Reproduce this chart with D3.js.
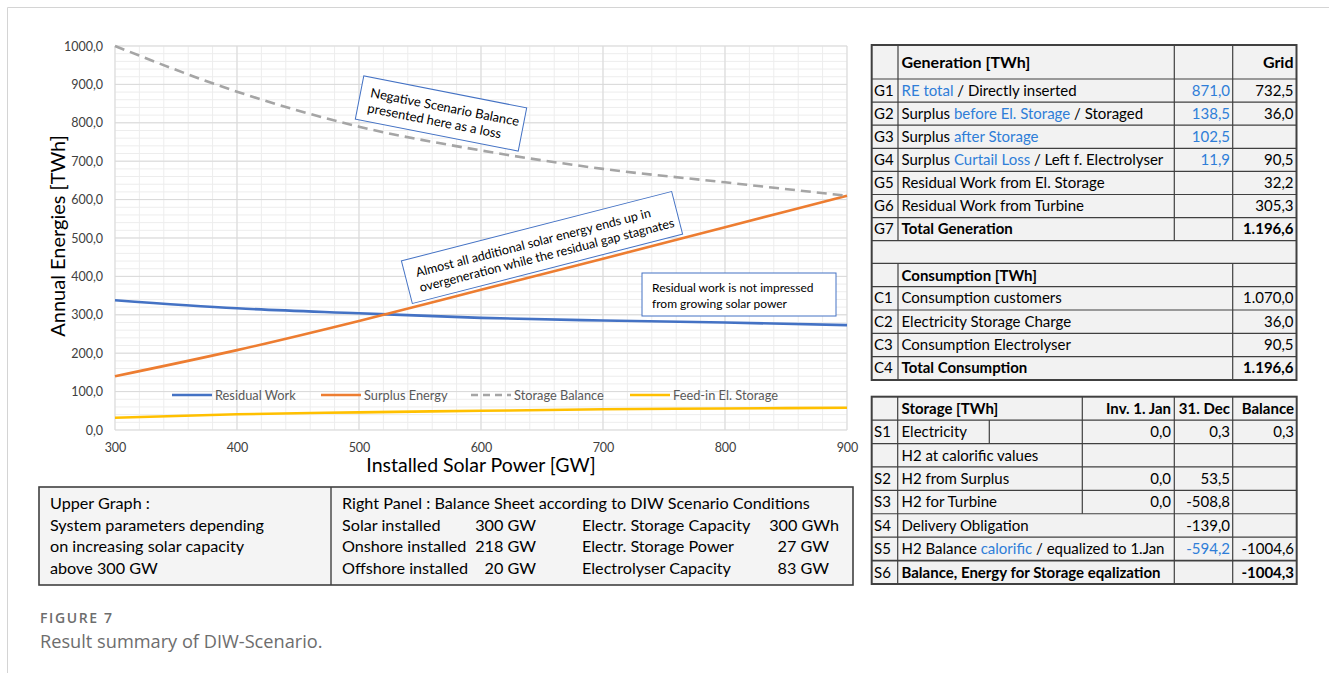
<!DOCTYPE html>
<html><head><meta charset="utf-8">
<script src="https://cdn.jsdelivr.net/npm/d3@7"></script>
<style>
body{margin:0;background:#fff;}
svg{display:block;font-family:Lato, "Liberation Sans", sans-serif;}
</style>
</head><body>
<svg id="c" width="1329" height="673"></svg>
<script>
// ---------- chart data ----------
const solarGW        = [300, 400, 500, 600, 700, 800, 900];
const residualWork   = [338, 317, 304, 292, 285, 280, 273];
const surplusEnergy  = [140, 208, 284, 365, 446, 528, 610];
const storageBalance = [1000, 881, 790, 728, 680, 645, 610];
const feedInStorage  = [32, 41, 46, 50, 54, 56, 58];
const xTicks = [300, 400, 500, 600, 700, 800, 900];
const yTicks = [0, 100, 200, 300, 400, 500, 600, 700, 800, 900, 1000];
const seriesNames  = ["Residual Work", "Surplus Energy", "Storage Balance", "Feed-in El. Storage"];
const seriesColors = ["#4472c4", "#ed7d31", "#a5a5a5", "#ffc000"];

// ---------- bottom box ----------
const leftNotes = ["Upper Graph :", "System parameters depending", "on increasing solar capacity", "above 300 GW"];
const rightTitle = "Right Panel : Balance Sheet according to DIW Scenario Conditions";
const condNames1 = ["Solar installed", "Onshore installed", "Offshore installed"];
const condVals1  = ["300 GW", "218 GW", "20 GW"];
const condNames2 = ["Electr. Storage Capacity", "Electr. Storage Power", "Electrolyser Capacity"];
const condVals2  = ["300 GWh", "27 GW", "83 GW"];

// ---------- tables ----------
const genCodes = ["G1","G2","G3","G4","G5","G6","G7"];
const genLabels = [
  [["RE total",1],[" / Directly inserted",0]],
  [["Surplus ",0],["before El. Storage",1],[" / Storaged",0]],
  [["Surplus ",0],["after Storage",1]],
  [["Surplus ",0],["Curtail Loss",1],[" / Left f. Electrolyser",0]],
  [["Residual Work from El. Storage",0]],
  [["Residual Work from Turbine",0]],
  [["Total Generation",0]]
];
const genRE   = ["871,0","138,5","102,5","11,9","","",""];
const genGrid = ["732,5","36,0","","90,5","32,2","305,3","1.196,6"];
const consCodes  = ["C1","C2","C3","C4"];
const consLabels = ["Consumption customers","Electricity Storage Charge","Consumption Electrolyser","Total Consumption"];
const consGrid   = ["1.070,0","36,0","90,5","1.196,6"];
const stoCodes  = ["S1","","S2","S3","S4","S5","S6"];
const stoLabels = [
  [["Electricity",0]],
  [["H2 at calorific values",0]],
  [["H2 from Surplus",0]],
  [["H2 for Turbine",0]],
  [["Delivery Obligation",0]],
  [["H2 Balance ",0],["calorific",1],[" / equalized to 1.Jan",0]],
  [["Balance, Energy for Storage eqalization",0]]
];
const stoJan = ["0,0","","0,0","0,0","","",""];
const stoDec = ["0,3","","53,5","-508,8","-139,0","-594,2",""];
const stoBal = ["0,3","","","","","-1004,6","-1004,3"];

const BLUE_TXT = "#2f7ed8";
const svg = d3.select("#c");

// page frame lines
svg.append("line").attr("x1",7.5).attr("y1",7.5).attr("x2",1329).attr("y2",7.5).attr("stroke","#d4d4d4");
svg.append("line").attr("x1",7.5).attr("y1",7.5).attr("x2",7.5).attr("y2",673).attr("stroke","#d4d4d4");

// ---------- chart ----------
const x = d3.scaleLinear().domain([300, 900]).range([115, 847]);
const y = d3.scaleLinear().domain([0, 1000]).range([430, 46]);
const g = svg.append("g");

g.selectAll(".mx").data(d3.range(300, 901, 20)).join("line")
  .attr("x1", d => x(d)).attr("x2", d => x(d)).attr("y1", y(0)).attr("y2", y(1000))
  .attr("stroke", "#ededed").attr("stroke-width", 1);
g.selectAll(".my").data(d3.range(0, 1001, 20)).join("line")
  .attr("y1", d => y(d)).attr("y2", d => y(d)).attr("x1", x(300)).attr("x2", x(900))
  .attr("stroke", "#ededed").attr("stroke-width", 1);
g.selectAll(".Mx").data(xTicks).join("line")
  .attr("x1", d => x(d)).attr("x2", d => x(d)).attr("y1", y(0)).attr("y2", y(1000))
  .attr("stroke", "#d9d9d9").attr("stroke-width", 1);
g.selectAll(".My").data(yTicks).join("line")
  .attr("y1", d => y(d)).attr("y2", d => y(d)).attr("x1", x(300)).attr("x2", x(900))
  .attr("stroke", "#d9d9d9").attr("stroke-width", 1);

const fmt1 = d => d3.format(".1f")(d).replace(".", ",");
const yAx = g.append("g").attr("transform", `translate(${x(300)},0)`)
  .call(d3.axisLeft(y).tickValues(yTicks).tickSize(0).tickPadding(12).tickFormat(fmt1));
yAx.select(".domain").remove();
yAx.selectAll("text").attr("font-size", 12.5).attr("fill", "#404040").attr("font-family", "Lato");
const xAx = g.append("g").attr("transform", `translate(0,${y(0)})`)
  .call(d3.axisBottom(x).tickValues(xTicks).tickSize(0).tickPadding(13).tickFormat(d3.format("d")));
xAx.select(".domain").remove();
xAx.selectAll("text").attr("font-size", 12.5).attr("fill", "#404040").attr("font-family", "Lato");

g.append("text").attr("x", 481).attr("y", 472).attr("text-anchor", "middle")
  .attr("font-size", 19.5).attr("fill", "#000").text("Installed Solar Power [GW]");
g.append("text").attr("transform", "translate(65,236) rotate(-90)").attr("text-anchor", "middle")
  .attr("font-size", 20).attr("fill", "#000").text("Annual Energies [TWh]");

const allSeries = [residualWork, surplusEnergy, storageBalance, feedInStorage];
const lineGen = d3.line().x((d, i) => x(solarGW[i])).y(d => y(d)).curve(d3.curveMonotoneX);
const drawOrder = [3, 0, 1, 2];
drawOrder.forEach(k => {
  g.append("path").datum(allSeries[k]).attr("d", lineGen).attr("fill", "none")
    .attr("stroke", seriesColors[k]).attr("stroke-width", 2.6)
    .attr("stroke-dasharray", k === 2 ? "10,6" : null);
});

// legend
const legX = [172, 321, 471, 630];
seriesNames.forEach((n, k) => {
  g.append("line").attr("x1", legX[k]).attr("x2", legX[k] + 40).attr("y1", 395).attr("y2", 395)
    .attr("stroke", seriesColors[k]).attr("stroke-width", 2.6)
    .attr("stroke-dasharray", k === 2 ? "7,5" : null);
  g.append("text").attr("x", legX[k] + 43).attr("y", 399.5).attr("font-size", 12.8)
    .attr("fill", "#595959").text(n);
});

// annotation boxes
function noteBox(cx, cy, w, h, ang, lines, dx, fs, lh, y0) {
  const b = g.append("g").attr("transform", `translate(${cx},${cy}) rotate(${ang})`);
  b.append("rect").attr("x", -w/2).attr("y", -h/2).attr("width", w).attr("height", h)
    .attr("fill", "#fff").attr("stroke", "#4472c4").attr("stroke-width", 1);
  lines.forEach((t, i) => b.append("text").attr("x", -w/2 + dx).attr("y", y0 + i*lh)
    .attr("font-size", fs).attr("fill", "#000").text(t));
}
noteBox(441, 113.5, 166, 44, 11.1, ["Negative Scenario Balance", "presented here as a loss"], 10, 13, 15.5, -2.5);
noteBox(542, 247.5, 279, 44, -14.4, ["Almost all additional solar energy ends up in", "overgeneration while the residual gap stagnates"], 11, 12.6, 15.5, -2.5);
noteBox(739, 294.5, 194, 43, 0, ["Residual work is not impressed", "from growing solar power"], 10, 12, 16, -2.5);

// ---------- bottom box ----------
const bb = svg.append("g");
const BFS = 16.2;
bb.append("rect").attr("x", 39).attr("y", 487).attr("width", 814).attr("height", 98)
  .attr("fill", "#f4f4f4").attr("stroke", "#404040").attr("stroke-width", 1.6);
bb.append("line").attr("x1", 331).attr("x2", 331).attr("y1", 487).attr("y2", 585)
  .attr("stroke", "#404040").attr("stroke-width", 1.4);
const rowY = [509, 530.5, 552, 574];
leftNotes.forEach((t, i) => bb.append("text").attr("x", 50).attr("y", rowY[i]).attr("font-size", BFS).text(t));
bb.append("text").attr("x", 342).attr("y", rowY[0]).attr("font-size", BFS).text(rightTitle);
condNames1.forEach((t, i) => bb.append("text").attr("x", 342).attr("y", rowY[i+1]).attr("font-size", BFS).text(t));
condVals1.forEach((t, i) => bb.append("text").attr("x", 536).attr("y", rowY[i+1]).attr("text-anchor", "end").attr("font-size", BFS).text(t));
condNames2.forEach((t, i) => bb.append("text").attr("x", 582).attr("y", rowY[i+1]).attr("font-size", BFS).text(t));
condVals2.forEach((t, i) => bb.append("text").attr("x", i === 0 ? 839 : 829).attr("y", rowY[i+1]).attr("text-anchor", "end").attr("font-size", BFS).text(t));

// ---------- tables ----------
const tg = svg.append("g");
const FS = 15;
function hline(x1, x2, yy, w) { tg.append("line").attr("x1", x1).attr("x2", x2).attr("y1", yy).attr("y2", yy).attr("stroke", "#404040").attr("stroke-width", w || 1.2); }
function vline(xx, y1, y2, w) { tg.append("line").attr("x1", xx).attr("x2", xx).attr("y1", y1).attr("y2", y2).attr("stroke", "#404040").attr("stroke-width", w || 1.2); }
function txt(xx, yy, segs, opt) {
  opt = opt || {};
  const t = tg.append("text").attr("x", xx).attr("y", yy).attr("font-size", opt.fs || FS)
    .attr("text-anchor", opt.anchor || "start").attr("font-weight", opt.bold ? "bold" : null)
    .attr("fill", opt.color || "#000");
  if (opt.clip) t.attr("clip-path", opt.clip);
  if (typeof segs === "string") { t.text(segs); return t; }
  segs.forEach(s => t.append("tspan").attr("fill", s[1] ? BLUE_TXT : (opt.color || "#000")).text(s[0]));
  return t;
}

// table 1
const A0 = 871.7, A1 = 898, A2 = 1174.3, A3 = 1232.7, A4 = 1296.5;
const t1Rows = [45, 79];
for (let i = 1; i <= 7; i++) t1Rows.push(79 + i * 23.1);
t1Rows.push(263.3);
for (let i = 1; i <= 5; i++) t1Rows.push(263.3 + i * 23.34);
tg.append("rect").attr("x", A0).attr("y", 45).attr("width", A4 - A0).attr("height", 380 - 45).attr("fill", "#f2f2f2");
t1Rows.forEach(r => hline(A0, A4, r));
vline(A1, 45, 240.7); vline(A2, 45, 240.7); vline(A3, 45, 240.7);
vline(A1, 263.3, 380); vline(A3, 263.3, 380);
tg.append("rect").attr("x", A0).attr("y", 45).attr("width", A4 - A0).attr("height", 335)
  .attr("fill", "none").attr("stroke", "#404040").attr("stroke-width", 2);
txt(901.5, 68, "Generation [TWh]", {bold: true, fs: 16});
txt(1293.5, 68, "Grid", {bold: true, fs: 16, anchor: "end"});
genCodes.forEach((c, i) => {
  const by = 79 + i * 23.1 + 16.8;
  txt(874, by, c);
  txt(901.5, by, genLabels[i], {bold: i === 6});
  if (genRE[i]) txt(1230, by, genRE[i], {anchor: "end", color: BLUE_TXT});
  if (genGrid[i]) txt(1293.5, by, genGrid[i], {anchor: "end", bold: i === 6});
});
txt(901.5, 263.3 + 17.3, "Consumption [TWh]", {bold: true});
consCodes.forEach((c, i) => {
  const by = 286.64 + i * 23.34 + 16.8;
  txt(874, by, c);
  txt(901.5, by, consLabels[i], {bold: i === 3});
  txt(1293.5, by, consGrid[i], {anchor: "end", bold: i === 3});
});

// table 2
const B0 = 871.7, B1 = 897.7, BE = 989.3, BJ = 1082.3, B2 = 1174.3, B3 = 1232.7, B4 = 1296.7;
const RH = (584 - 396.7) / 8;
const ry = i => 396.7 + i * RH;
tg.append("rect").attr("x", B0).attr("y", 396.7).attr("width", B4 - B0).attr("height", 584 - 396.7).attr("fill", "#f2f2f2");
for (let i = 1; i < 8; i++) hline(B0, B4, ry(i), i === 7 ? 1.8 : 1.2);
vline(B1, ry(0), ry(8)); vline(B2, ry(0), ry(8)); vline(B3, ry(0), ry(8));
vline(BJ, ry(0), ry(5)); vline(BE, ry(1), ry(2));
tg.append("rect").attr("x", B0).attr("y", 396.7).attr("width", B4 - B0).attr("height", 584 - 396.7)
  .attr("fill", "none").attr("stroke", "#404040").attr("stroke-width", 2);
svg.append("defs").append("clipPath").attr("id", "clipS6").append("rect")
  .attr("x", B1).attr("y", 380).attr("width", B2 - B1 - 1).attr("height", 220);
txt(901.5, ry(0) + 17.3, "Storage [TWh]", {bold: true});
txt(1171, ry(0) + 17.3, "Inv. 1. Jan", {bold: true, anchor: "end"});
txt(1230, ry(0) + 17.3, "31. Dec", {bold: true, anchor: "end"});
txt(1294, ry(0) + 17.3, "Balance", {bold: true, anchor: "end"});
stoCodes.forEach((c, i) => {
  const by = ry(i + 1) + 17;
  if (c) txt(874, by, c);
  txt(901.5, by, stoLabels[i], {bold: i === 6, clip: i === 6 ? "url(#clipS6)" : null});
  if (stoJan[i]) txt(1171, by, stoJan[i], {anchor: "end"});
  if (stoDec[i]) txt(1230, by, stoDec[i], {anchor: "end", color: i === 5 ? BLUE_TXT : "#000"});
  if (stoBal[i]) txt(1294, by, stoBal[i], {anchor: "end", bold: i === 6});
});

// ---------- caption ----------
svg.append("text").attr("x", 40).attr("y", 623).attr("font-family", "'Open Sans', sans-serif")
  .attr("font-size", 14).attr("font-weight", 600).attr("letter-spacing", 1.6).attr("fill", "#6d6d6d").text("FIGURE 7");
svg.append("text").attr("x", 40).attr("y", 647.5).attr("font-family", "'Open Sans', sans-serif")
  .attr("font-size", 18.2).attr("fill", "#6d6d6d").text("Result summary of DIW-Scenario.");
</script>
</body></html>
